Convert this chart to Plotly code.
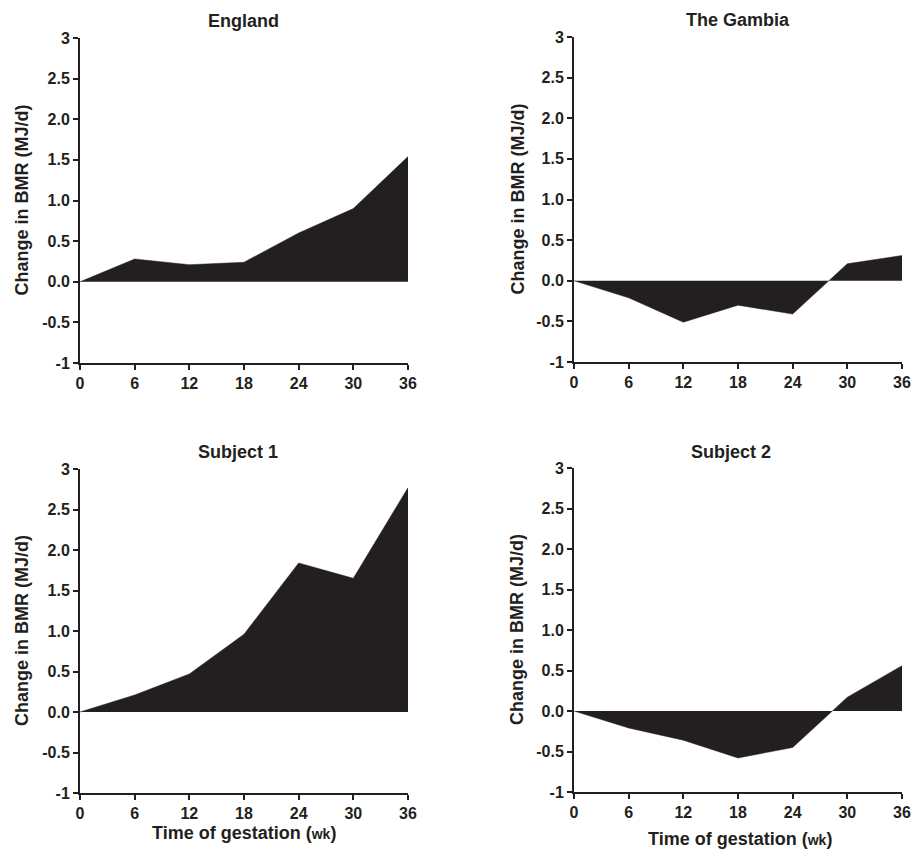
import plotly.graph_objects as go

weeks = [0, 6, 12, 18, 24, 30, 36]
england = [0.0, 0.28, 0.21, 0.24, 0.60, 0.90, 1.54]
gambia = [0.0, -0.21, -0.51, -0.30, -0.41, 0.21, 0.31]
subject1 = [0.0, 0.21, 0.47, 0.96, 1.84, 1.65, 2.77]
subject2 = [0.0, -0.21, -0.36, -0.58, -0.45, 0.17, 0.56]

panel_titles = ["England", "The Gambia", "Subject 1", "Subject 2"]
x_ticks = [0, 6, 12, 18, 24, 30, 36]
y_tickvals = [-1, -0.5, 0, 0.5, 1, 1.5, 2, 2.5, 3]
y_ticktext = ["-1", "-0.5", "0.0", "0.5", "1.0", "1.5", "2.0", "2.5", "3"]
y_title = "Change in BMR (MJ/d)"
x_title = "Time of gestation (<span style='font-size:14px'>wk</span>)"

W, H = 911, 851
INK = "#231f20"
FONT = "Liberation Sans, Arial, sans-serif"

# pixel boxes: (x0, x1, ytop, ybottom)
boxes = [(80, 408, 38, 363), (574, 902, 37, 362),
         (80, 408, 469, 793), (574, 902, 468, 792)]
title_pos = [(244, 21), (738, 20), (238, 452), (731, 452)]
ytitle_x = [22, 517, 22, 517]
xtitle_pos = {2: (244, 833), 3: (740, 839)}
series = [england, gambia, subject1, subject2]

fig = go.Figure()
for i, (vals, box) in enumerate(zip(series, boxes)):
    n = i + 1
    xa = "x" if n == 1 else f"x{n}"
    ya = "y" if n == 1 else f"y{n}"
    fig.add_trace(go.Scatter(x=weeks, y=vals, xaxis=xa, yaxis=ya, mode="lines",
                             fill="tozeroy", fillcolor=INK,
                             line=dict(color=INK, width=0.5), showlegend=False,
                             hoverinfo="skip"))
    x0, x1, yt, yb = box
    axis_common = dict(showline=True, linecolor=INK, linewidth=2, ticks="outside",
                       ticklen=5, tickwidth=1.5, tickcolor=INK, showgrid=False,
                       zeroline=False, automargin=False,
                       tickfont=dict(family=FONT, size=16, color=INK, weight="bold"))
    fig.layout[("xaxis" if n == 1 else f"xaxis{n}")] = dict(
        domain=[x0 / W, x1 / W], anchor=ya, range=[0, 36], tickvals=x_ticks,
        **axis_common)
    fig.layout[("yaxis" if n == 1 else f"yaxis{n}")] = dict(
        domain=[1 - yb / H, 1 - yt / H], anchor=xa, range=[-1, 3],
        tickvals=y_tickvals, ticktext=y_ticktext, **axis_common)

annotations = []
for i in range(4):
    tx, ty = title_pos[i]
    annotations.append(dict(text=panel_titles[i], x=tx / W, y=1 - ty / H,
                            xref="paper", yref="paper", showarrow=False,
                            xanchor="center", yanchor="middle",
                            font=dict(family=FONT, size=18, color=INK, weight="bold")))
    x0, x1, yt, yb = boxes[i]
    annotations.append(dict(text=y_title, x=ytitle_x[i] / W,
                            y=1 - ((yt + yb) / 2) / H, xref="paper", yref="paper",
                            showarrow=False, textangle=-90, xanchor="center",
                            yanchor="middle",
                            font=dict(family=FONT, size=18, color=INK, weight="bold")))
for i, (tx, ty) in xtitle_pos.items():
    annotations.append(dict(text=x_title, x=tx / W, y=1 - ty / H,
                            xref="paper", yref="paper", showarrow=False,
                            xanchor="center", yanchor="middle",
                            font=dict(family=FONT, size=18, color=INK, weight="bold")))

fig.update_layout(width=W, height=H, margin=dict(l=0, r=0, t=0, b=0),
                  template="none",
                  plot_bgcolor="white", paper_bgcolor="white",
                  annotations=annotations,
                  font=dict(family=FONT, color=INK))

fig.write_html("out.html")
